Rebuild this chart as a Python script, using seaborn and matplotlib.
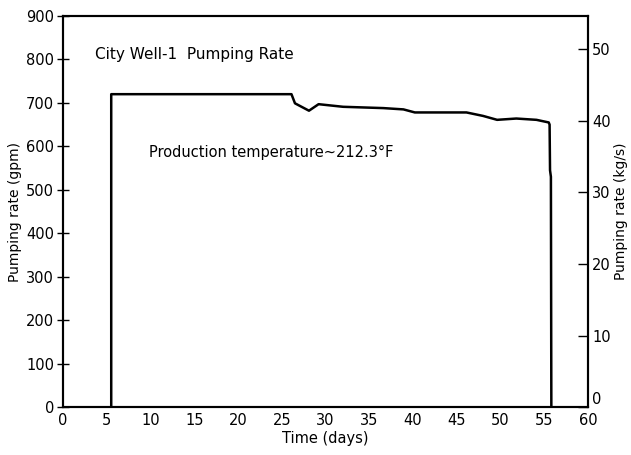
import matplotlib
matplotlib.use("Agg")
import matplotlib.pyplot as plt
import seaborn as sns
import pandas as pd

# Data
days = [5.5, 5.5, 26.1, 26.5, 28.1, 29.2, 32.0, 36.6, 38.9, 40.2, 46.1, 48.0,
        49.6, 51.8, 54.1, 55.5, 55.6, 55.65, 55.75, 55.8]
rate_gpm = [0, 720, 720, 699, 682, 697, 691, 688, 685, 678, 678, 670,
            661, 664, 661, 655, 650, 545, 530, 0]
x_ticks = list(range(0, 61, 5))
y_ticks_gpm = list(range(0, 901, 100))
y_ticks_kgs = [0, 10, 20, 30, 40, 50]

sns.set_theme(style="white")
plt.rcParams["font.family"] = ["DejaVu Sans"]

df = pd.DataFrame({"Time (days)": days, "rate": rate_gpm})

fig = plt.figure(figsize=(6.31, 4.55), dpi=100)
ax = fig.add_axes([0.1, 0.105, 0.832, 0.86])
sns.lineplot(data=df, x="Time (days)", y="rate", sort=False, estimator=None,
             color="black", linewidth=1.8, ax=ax)

ax.set_xlim(0, 60)
ax.set_ylim(0, 900)
ax.set_xticks(x_ticks)
ax.set_yticks(y_ticks_gpm)
ax.set_xlabel("Time (days)", fontsize=10.5, color="black", labelpad=2)
ax.set_ylabel("Pumping rate (gpm)", fontsize=10, color="black", labelpad=3)
for s in ax.spines.values():
    s.set_color("black")
    s.set_linewidth(1.5)
ax.tick_params(axis="x", direction="in", length=5, width=1, colors="black",
               labelsize=10.5, pad=4)
ax.tick_params(axis="y", direction="inout", length=9, width=1, colors="black",
               labelsize=10.5, pad=2)

ax2 = ax.twinx()
ax2.set_ylim(0, 54.6)
ax2.set_yticks(y_ticks_kgs)
ax2.tick_params(axis="y", direction="in", length=7, width=1, colors="black",
                labelsize=10.5, pad=3)
ax2.get_yticklabels()[0].set_verticalalignment("bottom")
ax2.set_ylabel("Pumping rate (kg/s)", fontsize=10, color="black", labelpad=2)
for s in ax2.spines.values():
    s.set_color("black")
    s.set_linewidth(1.5)

ax.text(0.061, 0.902, "City Well-1  Pumping Rate", transform=ax.transAxes,
        fontsize=11, color="black", va="center", ha="left")
ax.text(0.164, 0.65, "Production temperature~212.3°F", transform=ax.transAxes,
        fontsize=10.5, color="black", va="center", ha="left")

fig.savefig("out.png", dpi=100)
